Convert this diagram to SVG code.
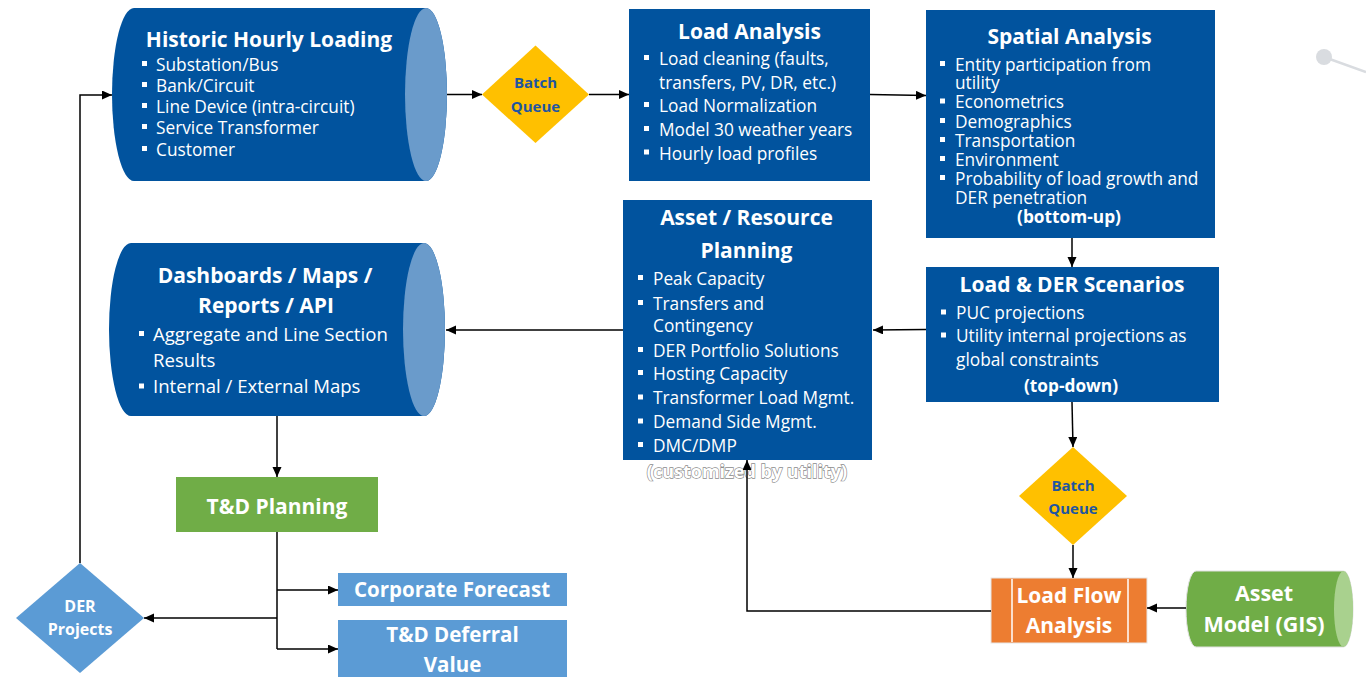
<svg xmlns="http://www.w3.org/2000/svg" width="1366" height="677" viewBox="0 0 1366 677">
<defs>
<style>
text{font-family:"Open Sans","Noto Sans","DejaVu Sans",sans-serif;fill:#fff}
.t{font-weight:bold;font-size:21px;text-anchor:middle}
.b{font-size:17.3px}
.bd{font-size:18.6px}
.bc{font-size:17.3px;font-weight:bold;text-anchor:middle}
.q{font-weight:bold;font-size:15px;text-anchor:middle;fill:#1F56A0}
.w{font-weight:bold;text-anchor:middle}
.blue{fill:#01539E}
.cap{fill:#6A9BCB}
.ln{fill:none;stroke:#000;stroke-width:1.5}
</style>
<rect id="bul" width="5" height="5" fill="#fff"/>
<marker id="ah" markerUnits="userSpaceOnUse" markerWidth="11" markerHeight="10" refX="10" refY="4.5" orient="auto">
<path d="M0,0 L10,4.5 L0,9 Z" fill="#000"/>
</marker>
</defs>

<g id="decor">
<line x1="1324" y1="57" x2="1366" y2="72" stroke="#D9DCE0" stroke-width="2.5"/>
<circle cx="1324" cy="57" r="8" fill="#D9DCE0"/>
</g>

<g id="historic">
<path class="blue" d="M134,8 H426 A21 86.5 0 0 1 426,181 H134 A22 86.5 0 0 1 134,8 Z"/>
<ellipse class="cap" cx="426" cy="94.5" rx="21" ry="86.5"/>
<text class="t" x="269" y="47">Historic Hourly Loading</text>
<use href="#bul" x="142" y="61"/><text class="b" x="156" y="70.7">Substation/Bus</text>
<use href="#bul" x="142" y="82"/><text class="b" x="156" y="92">Bank/Circuit</text>
<use href="#bul" x="142" y="103"/><text class="b" x="156" y="113.3">Line Device (intra-circuit)</text>
<use href="#bul" x="142" y="124"/><text class="b" x="156" y="134.3">Service Transformer</text>
<use href="#bul" x="142" y="146"/><text class="b" x="156" y="155.7">Customer</text>
</g>

<g id="batch1">
<polygon points="535.5,45.5 589,94.5 535.5,143 482,94.5" fill="#FFC000"/>
<text class="q" x="535.5" y="88">Batch</text>
<text class="q" x="535.5" y="112">Queue</text>
</g>

<g id="load-analysis">
<rect class="blue" x="629" y="9" width="241" height="172"/>
<text class="t" x="749.5" y="38.5">Load Analysis</text>
<use href="#bul" x="644" y="55"/><text class="b" x="659" y="65">Load cleaning (faults,</text>
<text class="b" x="659" y="88.5">transfers, PV, DR, etc.)</text>
<use href="#bul" x="644" y="102"/><text class="b" x="659" y="112">Load Normalization</text>
<use href="#bul" x="644" y="126"/><text class="b" x="659" y="136">Model 30 weather years</text>
<use href="#bul" x="644" y="149.5"/><text class="b" x="659" y="159.5">Hourly load profiles</text>
</g>

<g id="spatial">
<rect class="blue" x="926" y="10" width="289" height="228"/>
<text class="t" x="1069.5" y="43.5">Spatial Analysis</text>
<use href="#bul" x="940" y="61"/><text class="b" x="955" y="70.7">Entity participation from</text>
<text class="b" x="955" y="89.3">utility</text>
<use href="#bul" x="940" y="98.5"/><text class="b" x="955" y="108.3">Econometrics</text>
<use href="#bul" x="940" y="118"/><text class="b" x="955" y="127.7">Demographics</text>
<use href="#bul" x="940" y="137"/><text class="b" x="955" y="146.7">Transportation</text>
<use href="#bul" x="940" y="156"/><text class="b" x="955" y="165.7">Environment</text>
<use href="#bul" x="940" y="175"/><text class="b" x="955" y="185">Probability of load growth and</text>
<text class="b" x="955" y="204">DER penetration</text>
<text class="bc" x="1069" y="222.7">(bottom-up)</text>
</g>

<g id="scenarios">
<rect class="blue" x="926" y="267" width="293" height="135"/>
<text class="t" x="1072" y="291.7">Load &amp; DER Scenarios</text>
<use href="#bul" x="941" y="309.5"/><text class="b" x="956" y="319.3">PUC projections</text>
<use href="#bul" x="941" y="332.5"/><text class="b" x="956" y="342.3">Utility internal projections as</text>
<text class="b" x="956" y="366">global constraints</text>
<text class="bc" x="1071" y="391.7">(top-down)</text>
</g>

<g id="asset-planning">
<rect class="blue" x="623" y="200" width="249" height="260"/>
<text class="t" x="746.5" y="225">Asset / Resource</text>
<text class="t" x="746.5" y="257.7">Planning</text>
<use href="#bul" x="638" y="275"/><text class="b" x="653" y="285">Peak Capacity</text>
<use href="#bul" x="638" y="300"/><text class="b" x="653" y="310">Transfers and</text>
<text class="b" x="653" y="332.3">Contingency</text>
<use href="#bul" x="638" y="347"/><text class="b" x="653" y="356.7">DER Portfolio Solutions</text>
<use href="#bul" x="638" y="370"/><text class="b" x="653" y="380">Hosting Capacity</text>
<use href="#bul" x="638" y="394.5"/><text class="b" x="653" y="404.3">Transformer Load Mgmt.</text>
<use href="#bul" x="638" y="418.5"/><text class="b" x="653" y="428.3">Demand Side Mgmt.</text>
<use href="#bul" x="638" y="442"/><text class="b" x="653" y="451.7">DMC/DMP</text>
<text x="747" y="478" font-size="18" font-weight="bold" text-anchor="middle" stroke="#8C8C8C" stroke-width="1.3" paint-order="stroke">(customized by utility)</text>
</g>

<g id="dashboards">
<path class="blue" d="M131,243 H424 A21 86.5 0 0 1 424,416 H131 A22 86.5 0 0 1 131,243 Z"/>
<ellipse class="cap" cx="424" cy="329.5" rx="21" ry="86.5"/>
<text class="t" x="265" y="283.3">Dashboards / Maps /</text>
<text class="t" x="266" y="313.3">Reports / API</text>
<use href="#bul" x="139" y="331"/><text class="bd" x="153" y="340.7">Aggregate and Line Section</text>
<text class="bd" x="153" y="366.7">Results</text>
<use href="#bul" x="139" y="383.5"/><text class="bd" x="153" y="393.3">Internal / External Maps</text>
</g>

<g id="td-planning">
<rect x="176" y="477" width="202" height="55" fill="#70AD47"/>
<text class="w" x="277" y="514" font-size="21">T&amp;D Planning</text>
</g>

<g id="corporate-forecast">
<rect x="338" y="573" width="229" height="33" fill="#5B9BD5"/>
<text class="w" x="452" y="597.3" font-size="20.5">Corporate Forecast</text>
</g>

<g id="td-deferral">
<rect x="338" y="620" width="229" height="60" fill="#5B9BD5"/>
<text class="w" x="452.5" y="641.7" font-size="20.5">T&amp;D Deferral</text>
<text class="w" x="452.5" y="671.5" font-size="20.5">Value</text>
</g>

<g id="der-projects">
<polygon points="80,563 144,618 80,673 16,618" fill="#5B9BD5"/>
<text class="w" x="80" y="611.7" font-size="16">DER</text>
<text class="w" x="80" y="635" font-size="16">Projects</text>
</g>

<g id="batch2">
<polygon points="1073,447 1127,496 1073,545 1019,496" fill="#FFC000"/>
<text class="q" x="1073" y="490.7">Batch</text>
<text class="q" x="1073" y="514">Queue</text>
</g>

<g id="load-flow">
<rect x="991" y="578" width="156" height="65" fill="#ED7D31" stroke="#E6E6E6" stroke-width="1"/>
<line x1="1012" y1="579" x2="1012" y2="642" stroke="#fff" stroke-width="1.5"/>
<line x1="1128" y1="579" x2="1128" y2="642" stroke="#fff" stroke-width="1.5"/>
<text class="w" x="1069" y="603.3" font-size="21">Load Flow</text>
<text class="w" x="1069" y="633.3" font-size="21">Analysis</text>
</g>

<g id="asset-model">
<path d="M1196,571 H1343.5 A9.5 38 0 0 1 1343.5,647 H1196 A10 38 0 0 1 1196,571 Z" fill="#70AD47" stroke="#E0E0E0" stroke-width="1"/>
<ellipse cx="1343.5" cy="609" rx="9.5" ry="38" fill="#A9D18E"/>
<text class="w" x="1264" y="601" font-size="21.5">Asset</text>
<text class="w" x="1264" y="631.7" font-size="21.5">Model (GIS)</text>
</g>

<g id="connectors">
<line class="ln" x1="447" y1="94.5" x2="482" y2="94.5" marker-end="url(#ah)"/>
<line class="ln" x1="589" y1="94.5" x2="629" y2="94.5" marker-end="url(#ah)"/>
<line class="ln" x1="870" y1="94.5" x2="926" y2="95.5" marker-end="url(#ah)"/>
<line class="ln" x1="1072" y1="238" x2="1072" y2="267" marker-end="url(#ah)"/>
<line class="ln" x1="926" y1="329.5" x2="873" y2="330" marker-end="url(#ah)"/>
<line class="ln" x1="623" y1="330" x2="446" y2="330" marker-end="url(#ah)"/>
<line class="ln" x1="1072" y1="402" x2="1073" y2="447" marker-end="url(#ah)"/>
<line class="ln" x1="1073" y1="545" x2="1073" y2="578" marker-end="url(#ah)"/>
<line class="ln" x1="1186" y1="608" x2="1147" y2="608" marker-end="url(#ah)"/>
<polyline class="ln" points="991,611 747,611 747,460" marker-end="url(#ah)"/>
<line class="ln" x1="277" y1="416" x2="277" y2="477" marker-end="url(#ah)"/>
<line class="ln" x1="277" y1="532" x2="277" y2="649"/>
<line class="ln" x1="277" y1="590" x2="338" y2="590" marker-end="url(#ah)"/>
<line class="ln" x1="277" y1="649" x2="338" y2="649" marker-end="url(#ah)"/>
<line class="ln" x1="277" y1="618" x2="144" y2="618" marker-end="url(#ah)"/>
<polyline class="ln" points="80,563 80,95 112,95" marker-end="url(#ah)"/>
</g>
</svg>
